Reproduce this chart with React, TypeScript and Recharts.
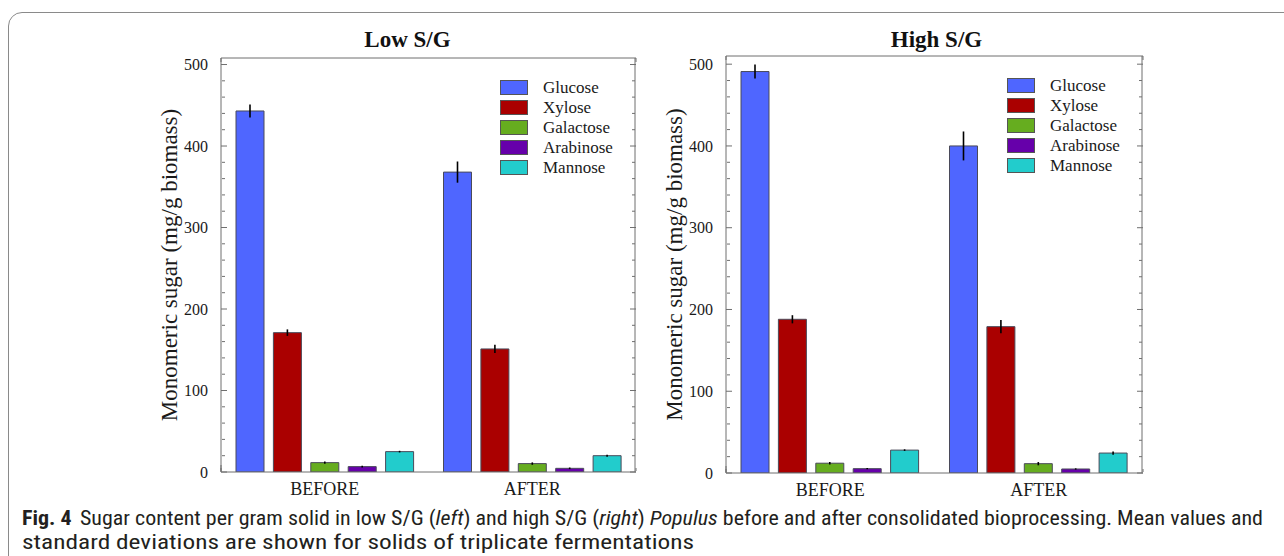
import React from 'react';
import { BarChart, Bar, XAxis, YAxis, ErrorBar, Legend } from 'recharts';

const stages = ['BEFORE', 'AFTER'];
const sugars = ['Glucose', 'Xylose', 'Galactose', 'Arabinose', 'Mannose'];
const sugarColors = ['#4F66FF', '#AA0000', '#66AD1F', '#6600AA', '#22CCCC'];

// Low S/G means and standard deviations, per sugar: [BEFORE, AFTER]
const lowGlucose = [443, 368];
const lowGlucoseSd = [8, 13];
const lowXylose = [171, 151];
const lowXyloseSd = [4, 5];
const lowGalactose = [11.5, 10.3];
const lowGalactoseSd = [1.5, 1.5];
const lowArabinose = [6.6, 4.5];
const lowArabinoseSd = [1, 1];
const lowMannose = [25, 20];
const lowMannoseSd = [1, 1.2];

// High S/G
const highGlucose = [491, 400];
const highGlucoseSd = [8.6, 17.7];
const highXylose = [188, 179];
const highXyloseSd = [5, 8];
const highGalactose = [12, 11.4];
const highGalactoseSd = [1.5, 2];
const highArabinose = [5.3, 4.9];
const highArabinoseSd = [0.8, 0.8];
const highMannose = [28, 24.4];
const highMannoseSd = [1, 2];

const yMajorTicks = [0, 100, 200, 300, 400, 500];
const yMinorTicks = [20, 40, 60, 80, 120, 140, 160, 180, 220, 240, 260, 280, 320, 340, 360, 380, 420, 440, 460, 480];
const xMinorTicks = [0, 1, 2, 3, 4, 5, 6, 7, 8, 9, 10, 11, 12, 13, 14, 15, 16, 17, 18, 19, 20];
const xMajorTicks = [0, 10, 20];

const yLabel = 'Monomeric sugar (mg/g biomass)';

const buildRows = (means: number[][], sds: number[][]) =>
  stages.map((stage, i) => {
    const row: any = { stage };
    sugars.forEach((s, k) => {
      row[s] = means[k][i];
      row[s + 'Sd'] = sds[k][i];
    });
    return row;
  });

const lowRows = buildRows(
  [lowGlucose, lowXylose, lowGalactose, lowArabinose, lowMannose],
  [lowGlucoseSd, lowXyloseSd, lowGalactoseSd, lowArabinoseSd, lowMannoseSd]
);
const highRows = buildRows(
  [highGlucose, highXylose, highGalactose, highArabinose, highMannose],
  [highGlucoseSd, highXyloseSd, highGalactoseSd, highArabinoseSd, highMannoseSd]
);

const SERIF = '"Liberation Serif", "DejaVu Serif", serif';
const AX = '#6f6f6f';
const TXT = '#1a1a1a';
const empty = () => '';

const renderLegend = (props: any) => {
  const items = [...(props.payload || [])].sort(
    (a: any, b: any) => sugars.indexOf(a.value) - sugars.indexOf(b.value)
  );
  return (
    <div>
      {items.map((p: any) => (
        <div key={p.value} style={{ display: 'flex', alignItems: 'center', height: 19.8 }}>
          <span
            style={{
              display: 'inline-block',
              width: 28,
              height: 15,
              background: p.color,
              border: '1px solid #555',
              boxSizing: 'border-box',
            }}
          />
          <span style={{ marginLeft: 15, fontFamily: SERIF, fontSize: 17, color: TXT, lineHeight: '19px' }}>
            {p.value}
          </span>
        </div>
      ))}
    </div>
  );
};

type PanelProps = {
  title: string;
  titleShift: number;
  rows: any[];
  yMax: number;
  left: number;
  width: number;
  margin: { top: number; right: number; bottom: number; left: number };
  legendLeft: number;
  legendTop: number;
};

const Panel = ({ title, titleShift, rows, yMax, left, width, margin, legendLeft, legendTop }: PanelProps) => {
  const plotLeft = margin.left + 71;
  const plotRight = width - margin.right;
  return (
    <div style={{ position: 'absolute', left, top: 0, width, height: 556 }}>
      <div
        style={{
          position: 'absolute',
          left: plotLeft + titleShift,
          width: plotRight - plotLeft,
          top: 26,
          textAlign: 'center',
          fontFamily: SERIF,
          fontWeight: 'bold',
          fontSize: 23,
          color: '#111',
          lineHeight: '28px',
        }}
      >
        {title}
      </div>
      <BarChart
        width={width}
        height={556}
        data={rows}
        margin={margin}
        barSize={28}
        barGap={9.4}
        barCategoryGap={0}
      >
        <XAxis
          xAxisId="cat"
          dataKey="stage"
          height={30}
          tickLine={false}
          axisLine={{ stroke: AX }}
          interval={0}
          tickMargin={4}
          tick={{ fontFamily: SERIF, fontSize: 18, fill: TXT }}
        />
        <XAxis
          xAxisId="top"
          type="number"
          orientation="top"
          mirror
          height={1}
          domain={[0, 20]}
          allowDataOverflow
          ticks={xMinorTicks}
          interval={0}
          tickSize={4}
          tickLine={{ stroke: AX }}
          axisLine={{ stroke: AX }}
          tickFormatter={empty}
        />
        <XAxis
          xAxisId="bottomMinor"
          type="number"
          orientation="bottom"
          mirror
          height={1}
          domain={[0, 20]}
          allowDataOverflow
          ticks={xMinorTicks}
          interval={0}
          tickSize={3}
          tickLine={{ stroke: AX }}
          axisLine={false}
          tickFormatter={empty}
        />
        <XAxis
          xAxisId="bottomMajor"
          type="number"
          orientation="bottom"
          mirror
          height={1}
          domain={[0, 20]}
          allowDataOverflow
          ticks={xMajorTicks}
          interval={0}
          tickSize={7}
          tickLine={{ stroke: AX }}
          axisLine={false}
          tickFormatter={empty}
        />
        <YAxis
          yAxisId="y"
          type="number"
          width={71}
          domain={[0, yMax]}
          allowDataOverflow
          ticks={yMajorTicks}
          interval={0}
          tickLine={false}
          axisLine={{ stroke: AX }}
          tickMargin={7}
          tick={{ fontFamily: SERIF, fontSize: 16, fill: TXT }}
          label={{
            content: (p: any) => {
              const vb = p.viewBox || {};
              const cx = vb.x + vb.width - 52;
              const cy = vb.y + vb.height / 2;
              return (
                <text
                  x={cx}
                  y={cy}
                  transform={`rotate(-90 ${cx} ${cy})`}
                  textAnchor="middle"
                  dominantBaseline="central"
                  fontFamily={SERIF}
                  fontSize={23}
                  fill={TXT}
                >
                  {yLabel}
                </text>
              );
            },
          }}
        />
        <YAxis
          yAxisId="leftMinor"
          type="number"
          mirror
          width={1}
          domain={[0, yMax]}
          allowDataOverflow
          ticks={yMinorTicks}
          interval={0}
          tickSize={3}
          tickLine={{ stroke: AX }}
          axisLine={false}
          tickFormatter={empty}
        />
        <YAxis
          yAxisId="leftMajor"
          type="number"
          mirror
          width={1}
          domain={[0, yMax]}
          allowDataOverflow
          ticks={yMajorTicks}
          interval={0}
          tickSize={6}
          tickLine={{ stroke: AX }}
          axisLine={false}
          tickFormatter={empty}
        />
        <YAxis
          yAxisId="rightMinor"
          type="number"
          orientation="right"
          mirror
          width={1}
          domain={[0, yMax]}
          allowDataOverflow
          ticks={yMinorTicks}
          interval={0}
          tickSize={3}
          tickLine={{ stroke: AX }}
          axisLine={{ stroke: AX }}
          tickFormatter={empty}
        />
        <YAxis
          yAxisId="rightMajor"
          type="number"
          orientation="right"
          mirror
          width={1}
          domain={[0, yMax]}
          allowDataOverflow
          ticks={yMajorTicks}
          interval={0}
          tickSize={6}
          tickLine={{ stroke: AX }}
          axisLine={false}
          tickFormatter={empty}
        />
        <Legend
          layout="vertical"
          align="center"
          verticalAlign="middle"
          wrapperStyle={{ left: legendLeft, top: legendTop, width: 140, height: 100 }}
          content={renderLegend}
        />
        {sugars.map((s, k) => (
          <Bar
            key={s}
            xAxisId="cat"
            yAxisId="y"
            dataKey={s}
            name={s}
            fill={sugarColors[k]}
            stroke="#4a4a5a"
            strokeWidth={1}
            isAnimationActive={false}
          >
            <ErrorBar dataKey={s + 'Sd'} width={0} stroke="#000" strokeWidth={1.6} direction="y" />
          </Bar>
        ))}
      </BarChart>
    </div>
  );
};

const CAPTION_FONT = '"Liberation Sans Narrow", "Roboto Condensed", "Noto Sans", sans-serif';

const Caption = () => (
  <svg
    width={1284}
    height={556}
    style={{ position: 'absolute', left: 0, top: 0, pointerEvents: 'none' }}
  >
    <text
      x={22}
      y={525}
      fontFamily={CAPTION_FONT}
      fontSize={21}
      fill="#231f20"
      textLength={1241}
      lengthAdjust="spacingAndGlyphs"
    >
      <tspan fontWeight="bold">Fig. 4</tspan>
      <tspan dx={8}>Sugar content per gram solid in low S/G (</tspan>
      <tspan fontStyle="italic">left</tspan>
      <tspan>) and high S/G (</tspan>
      <tspan fontStyle="italic">right</tspan>
      <tspan>) </tspan>
      <tspan fontStyle="italic">Populus</tspan>
      <tspan> before and after consolidated bioprocessing. Mean values and</tspan>
    </text>
    <text
      x={22}
      y={549}
      fontFamily={CAPTION_FONT}
      fontSize={21}
      fill="#231f20"
      textLength={672}
      lengthAdjust="spacingAndGlyphs"
    >
      standard deviations are shown for solids of triplicate fermentations
    </text>
  </svg>
);

export default function App() {
  return (
    <div
      style={{
        position: 'absolute',
        left: 0,
        top: 0,
        width: 1284,
        height: 556,
        overflow: 'hidden',
        background: '#fff',
      }}
    >
      <div
        style={{
          position: 'absolute',
          left: 8,
          top: 12,
          width: 1320,
          height: 600,
          border: '1.5px solid #8a8a8a',
          borderRadius: 14,
          boxSizing: 'border-box',
        }}
      />
      <Panel
        title="Low S/G"
        titleShift={-21}
        rows={lowRows}
        yMax={508}
        left={0}
        width={680}
        margin={{ top: 58, right: 44, bottom: 54, left: 150 }}
        legendLeft={500}
        legendTop={78}
      />
      <Panel
        title="High S/G"
        titleShift={2}
        rows={highRows}
        yMax={510}
        left={640}
        width={644}
        margin={{ top: 56, right: 141, bottom: 53, left: 15 }}
        legendLeft={367}
        legendTop={76}
      />
      <Caption />
    </div>
  );
}
